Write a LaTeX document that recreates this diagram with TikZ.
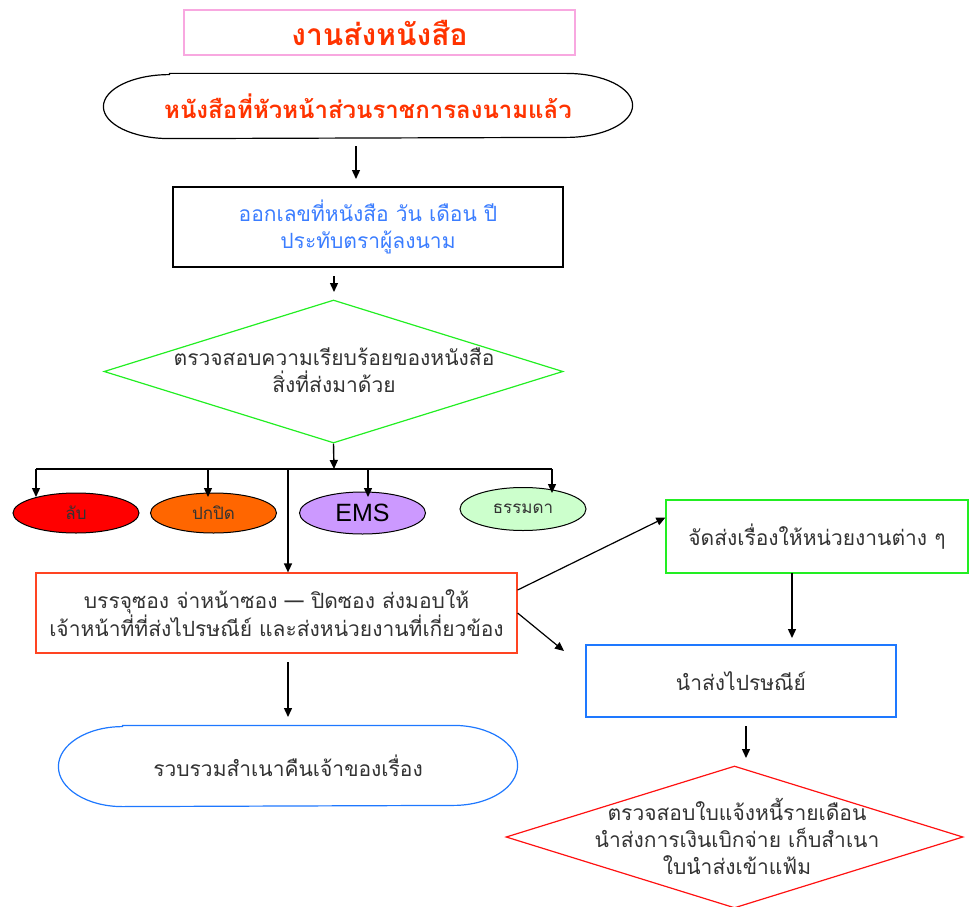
\documentclass[tikz,border=0pt]{standalone}
\usepackage{fontspec}
\newfontfamily\thaifont[Script=Thai]{Loma}
\setmainfont{Liberation Sans}
\usetikzlibrary{shapes.geometric,arrows.meta}
\definecolor{titlered}{HTML}{FF3300}
\definecolor{pinkb}{HTML}{F8A8E0}
\definecolor{bluet}{HTML}{3B7DFF}
\definecolor{greenb}{HTML}{22EE22}
\definecolor{redb}{HTML}{FF4422}
\definecolor{blueb}{HTML}{1E78FF}
\definecolor{redd}{HTML}{FF1111}
\definecolor{txt}{HTML}{333333}
\definecolor{lab}{HTML}{FF0000}
\definecolor{orng}{HTML}{FF6600}
\definecolor{purp}{HTML}{CC99FF}
\definecolor{lgreen}{HTML}{CCFFCC}
\tikzset{
  box/.style={draw, line width=1.2pt, rectangle, inner sep=0pt, align=center, font=\thaifont\fontsize{21}{27}\selectfont, text=txt},
  oval/.style={draw, ellipse, line width=1pt, inner sep=0pt, minimum width=126pt, minimum height=40pt, font=\thaifont\fontsize{17}{19}\selectfont, text=txt},
  arr/.style={-{Triangle[length=9pt,width=8pt]}, line width=1.4pt},
  ln/.style={line width=1.4pt},
}
\begin{document}
\begin{tikzpicture}[x=1pt,y=-1pt]
\useasboundingbox (0,0) rectangle (969,907);
% title
\node[box, draw=pinkb, minimum width=391pt, minimum height=45pt, text=titlered, font=\thaifont\bfseries\fontsize{30}{32}\selectfont] (title) at (379.5,32.5) {งานส่งหนังสือ};
% terminal
\node[box, draw=none, minimum width=528pt, minimum height=64pt, text=titlered, font=\thaifont\bfseries\fontsize{24}{26}\selectfont] (term) at (368,106) {หนังสือที่หัวหน้าส่วนราชการลงนามแล้ว};
\draw[line width=1.2pt] ([xshift=66pt]term.north west) -- ([xshift=-66pt]term.north east)
  arc[start angle=90, end angle=-90, x radius=66pt, y radius=32pt]
  -- ([xshift=66pt]term.south west)
  arc[start angle=270, end angle=90, x radius=66pt, y radius=32pt] -- cycle;
% box1
\node[box, draw=black, minimum width=390pt, minimum height=80pt, text=bluet] (b1) at (368,227) {ออกเลขที่หนังสือ วัน เดือน ปี\\ประทับตราผู้ลงนาม};
% diamond 1
\node[diamond, draw=greenb, line width=1.2pt, minimum width=459pt, minimum height=143pt, inner sep=0pt] (d1) at (333.5,371.5) {};
\node[box, draw=none, text=txt] (d1t) at (334,370) {ตรวจสอบความเรียบร้อยของหนังสือ\\สิ่งที่ส่งมาด้วย};
% ellipses
\node[oval, fill=lab] (e1) at (76,513) {ลับ};
\node[oval, fill=orng] (e2) at (213.5,513) {ปกปิด};
\node[oval, fill=purp, minimum height=42pt, font=\fontsize{25}{27}\selectfont, text=black] (e3) at (362.5,513) {EMS};
\node[oval, fill=lgreen, minimum height=43pt] (e4) at (523,509) {ธรรมดา};
% red box
\node[box, draw=redb, minimum width=481pt, minimum height=80pt] (rb) at (276.5,613) {บรรจุซอง จ่าหน้าซอง — ปิดซอง ส่งมอบให้\\เจ้าหน้าที่ที่ส่งไปรษณีย์ และส่งหน่วยงานที่เกี่ยวข้อง};
% bottom terminal
\node[box, draw=none, minimum width=458pt, minimum height=80pt] (st) at (288,766) {รวบรวมสำเนาคืนเจ้าของเรื่อง};
\draw[blueb, line width=1.2pt] ([xshift=64pt]st.north west) -- ([xshift=-64pt]st.north east)
  arc[start angle=90, end angle=-90, x radius=64pt, y radius=40pt]
  -- ([xshift=64pt]st.south west)
  arc[start angle=270, end angle=90, x radius=64pt, y radius=40pt] -- cycle;
% green box
\node[box, draw=greenb, minimum width=302pt, minimum height=73pt] (gb) at (817,536.5) {จัดส่งเรื่องให้หน่วยงานต่าง ๆ};
% blue box
\node[box, draw=blueb, minimum width=310pt, minimum height=72pt] (bb) at (741,681) {นำส่งไปรษณีย์};
% red diamond
\node[diamond, draw=redd, line width=1.2pt, minimum width=457pt, minimum height=142pt, inner sep=0pt] (d2) at (734.5,837) {};
\node[box, draw=none, text=txt] (d2t) at (737,836) {ตรวจสอบใบแจ้งหนี้รายเดือน\\นำส่งการเงินเบิกจ่าย เก็บสำเนา\\ใบนำส่งเข้าแฟ้ม};
% coordinates
\coordinate (a1s) at (356,146); \coordinate (a1e) at (356,179);
\coordinate (a2s) at (334,276); \coordinate (a2e) at (334,292);
\coordinate (j) at (334,469);
\coordinate (bl) at (36,469); \coordinate (br) at (552,469);
\coordinate (j2) at (208,469); \coordinate (j3) at (368,469); \coordinate (jm) at (288,469);
\coordinate (t1) at (36,497); \coordinate (t2) at (208,497); \coordinate (t3) at (368,497); \coordinate (t4) at (552,493);
\coordinate (a3s) at (288,662); \coordinate (a3e) at (288,717);
\coordinate (a4e) at (564,651);
\coordinate (a5s) at (792,573); \coordinate (a5e) at (792,638);
\coordinate (a6s) at (746,726); \coordinate (a6e) at (746,758);
% connectors
\draw[arr] (a1s) -- (a1e);
\draw[arr] (a2s) -- (a2e);
\draw[arr] (d1.south) -- (j);
\draw[ln] (bl) -- (br);
\draw[arr] (bl) -- (t1);
\draw[arr] (j2) -- (t2);
\draw[arr] (j3) -- (t3);
\draw[arr] (br) -- (t4);
\draw[arr] (jm) -- (jm |- rb.north);
\draw[arr] (a3s) -- (a3e);
\draw[arr, line width=1.2pt] ([yshift=23pt]rb.east) -- ([yshift=19pt]gb.west);
\draw[arr, line width=1.2pt] (rb.east) -- (a4e);
\draw[arr] (a5s) -- (a5e);
\draw[arr] (a6s) -- (a6e);
\end{tikzpicture}
\end{document}
